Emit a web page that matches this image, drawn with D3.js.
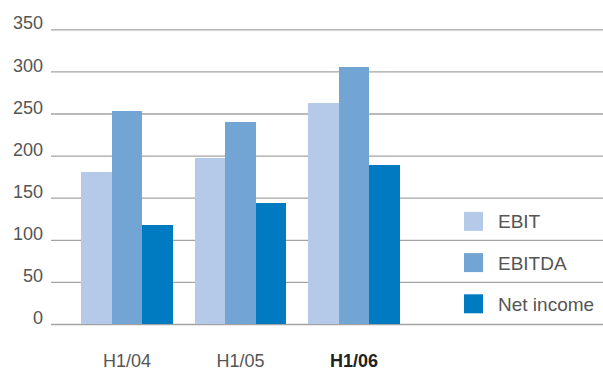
<!DOCTYPE html>
<html>
<head>
<meta charset="utf-8">
<script src="https://cdn.jsdelivr.net/npm/d3@7/dist/d3.min.js"></script>
<style>
  html, body { margin: 0; padding: 0; background: #fff; }
  svg { display: block; }
  text { font-family: "Liberation Sans", Arial, Helvetica, sans-serif; }
</style>
</head>
<body>
<svg id="chart" width="603" height="370"></svg>
<script>
// Half-year results
const periods = ["H1/04", "H1/05", "H1/06"];
const seriesNames = ["EBIT", "EBITDA", "Net income"];
const ebit = [180, 197, 263];
const ebitda = [253, 240, 305];
const netIncome = [117, 144, 189];
const yTicks = [0, 50, 100, 150, 200, 250, 300, 350];
const colors = ["#b5cae8", "#72a4d4", "#007ac1"];

const values = [ebit, ebitda, netIncome];
const rows = periods.map((p, i) => ({
  period: p,
  items: seriesNames.map((s, k) => ({ key: s, value: values[k][i] }))
}));

const svg = d3.select("#chart");

const y = d3.scaleLinear().domain([0, 350]).range([324, 29.3]);

const x0 = d3.scaleBand()
  .domain(periods)
  .range([70.25, 410.75])
  .paddingInner(0.19)
  .paddingOuter(0.095);

const x1 = d3.scaleBand()
  .domain(seriesNames)
  .range([0, x0.bandwidth()])
  .padding(0);

const color = d3.scaleOrdinal().domain(seriesNames).range(colors);

// Horizontal gridlines with value labels
const yAxis = d3.axisLeft(y)
  .tickValues(yTicks)
  .tickSize(-552)
  .tickPadding(8)
  .tickFormat(d3.format("d"));

const gy = svg.append("g")
  .attr("transform", "translate(51,0)")
  .call(yAxis);
gy.select(".domain").remove();
gy.selectAll(".tick line")
  .attr("stroke", "#a3a3a3")
  .attr("stroke-width", 1.3);
gy.selectAll(".tick text")
  .attr("x", -8)
  .attr("dy", "-0.02em")
  .attr("fill", "#555")
  .style("font-size", "18px")
  .attr("dominant-baseline", "auto");

// Grouped bars
const groups = svg.append("g").selectAll("g")
  .data(rows)
  .join("g")
  .attr("transform", d => `translate(${x0(d.period)},0)`);

groups.selectAll("rect")
  .data(d => d.items)
  .join("rect")
  .attr("x", d => x1(d.key))
  .attr("y", d => y(d.value))
  .attr("width", x1.bandwidth())
  .attr("height", d => y(0) - y(d.value))
  .attr("fill", d => color(d.key))
  .attr("shape-rendering", "crispEdges");

// Category labels
const xAxis = d3.axisBottom(x0).tickSize(0).tickPadding(0);
const gx = svg.append("g")
  .attr("transform", "translate(0,354)")
  .call(xAxis);
gx.select(".domain").remove();
gx.selectAll(".tick text")
  .attr("dy", "13px")
  .attr("fill", d => d === "H1/06" ? "#222" : "#555")
  .style("font-weight", d => d === "H1/06" ? "bold" : "normal")
  .style("font-size", "18px");

// Legend
const legend = svg.append("g")
  .selectAll("g")
  .data(seriesNames)
  .join("g")
  .attr("transform", (d, i) => `translate(464,${221.4 + i * 41.2})`);

legend.append("rect")
  .attr("x", 0)
  .attr("y", -9.5)
  .attr("width", 19)
  .attr("height", 19)
  .attr("fill", d => color(d));

legend.append("text")
  .attr("x", 34)
  .attr("y", 7)
  .attr("fill", "#555")
  .style("font-size", "19px")
  .text(d => d);
</script>
</body>
</html>
